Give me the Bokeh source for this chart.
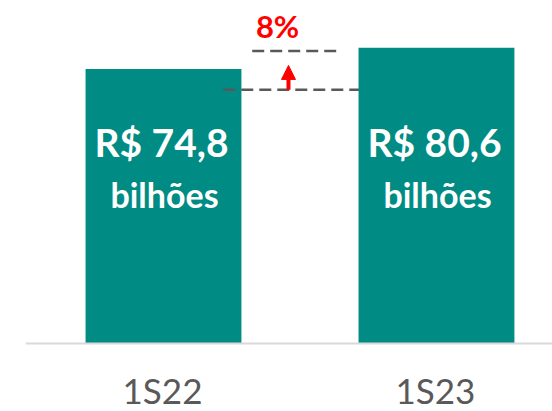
from bokeh.plotting import figure
from bokeh.models import ColumnDataSource, Range1d, Arrow, NormalHead, Span
from bokeh.core.properties import value
from bokeh.embed import file_html
from bokeh.resources import INLINE

categories = ["1S22", "1S23"]
values = [74.8, 80.6]
value_labels = ["R$ 74,8", "R$ 80,6"]
unit_labels = ["bilhões", "bilhões"]
growth_label = "8%"
lower_level = 69.2
upper_level = 79.7

xs = [i + 0.5 for i in range(len(categories))]
TEAL = "#008B84"
FONT = "Lato"

src = ColumnDataSource(dict(x=xs, top=values, vlab=value_labels, ulab=unit_labels,
                            cat=categories, cat_y=[-12.8] * len(categories)))

p = figure(width=552, height=411, output_backend="svg", toolbar_location=None,
           x_range=Range1d(-0.0055, 1.925), y_range=Range1d(-18.54, 93.5),
           min_border_left=25, min_border_right=0, min_border_top=0, min_border_bottom=0)
p.outline_line_color = None
p.background_fill_color = "white"
p.border_fill_color = "white"
p.xgrid.visible = False
p.ygrid.visible = False
p.xaxis.visible = False
p.yaxis.visible = False

p.vbar(x="x", top="top", bottom=0, width=0.571, source=src, fill_color=TEAL, line_color=None)

# baseline (category axis line)
p.add_layout(Span(location=0, dimension="width", line_color="#d9d9d9", line_width=2))

p.text(x="x", y=54.8, text="vlab", source=src, text_color="white", text_font=value(FONT),
       text_font_style="bold", text_font_size="39px", text_align="center", text_baseline="middle",
       x_offset=-2)
p.text(x="x", y=40.6, text="ulab", source=src, text_color="white", text_font=value(FONT),
       text_font_style="bold", text_font_size="34px", text_align="center", text_baseline="middle", x_offset=1)

# annotation dashed lines
p.segment(x0=[xs[0] + 0.219], y0=[lower_level], x1=[xs[1] - 0.284], y1=[lower_level],
          line_color="#595959", line_width=2.5, line_dash="12 6")
p.segment(x0=[xs[0] + 0.325], y0=[upper_level], x1=[xs[1] - 0.35], y1=[upper_level],
          line_color="#595959", line_width=2.5, line_dash="12 6")
ax = 0.5 + (288 - 163) / 273
p.add_layout(Arrow(end=NormalHead(size=14, fill_color="red", line_color="red"),
                   x_start=ax, y_start=lower_level, x_end=ax, y_end=lower_level + 6.6,
                   line_color="red", line_width=4))
p.text(x=[ax - 0.04], y=[86.5], text=[growth_label], text_color="red", text_font=value(FONT),
       text_font_style="bold", text_font_size="31px", text_align="center", text_baseline="middle")

# category labels
p.text(x="x", y="cat_y", text="cat", source=src, text_font=value(FONT),
       text_font_size="35px", text_color="#595959", text_align="center",
       text_baseline="middle", x_offset=-1)

open("out.html", "w").write(file_html(p, INLINE))
